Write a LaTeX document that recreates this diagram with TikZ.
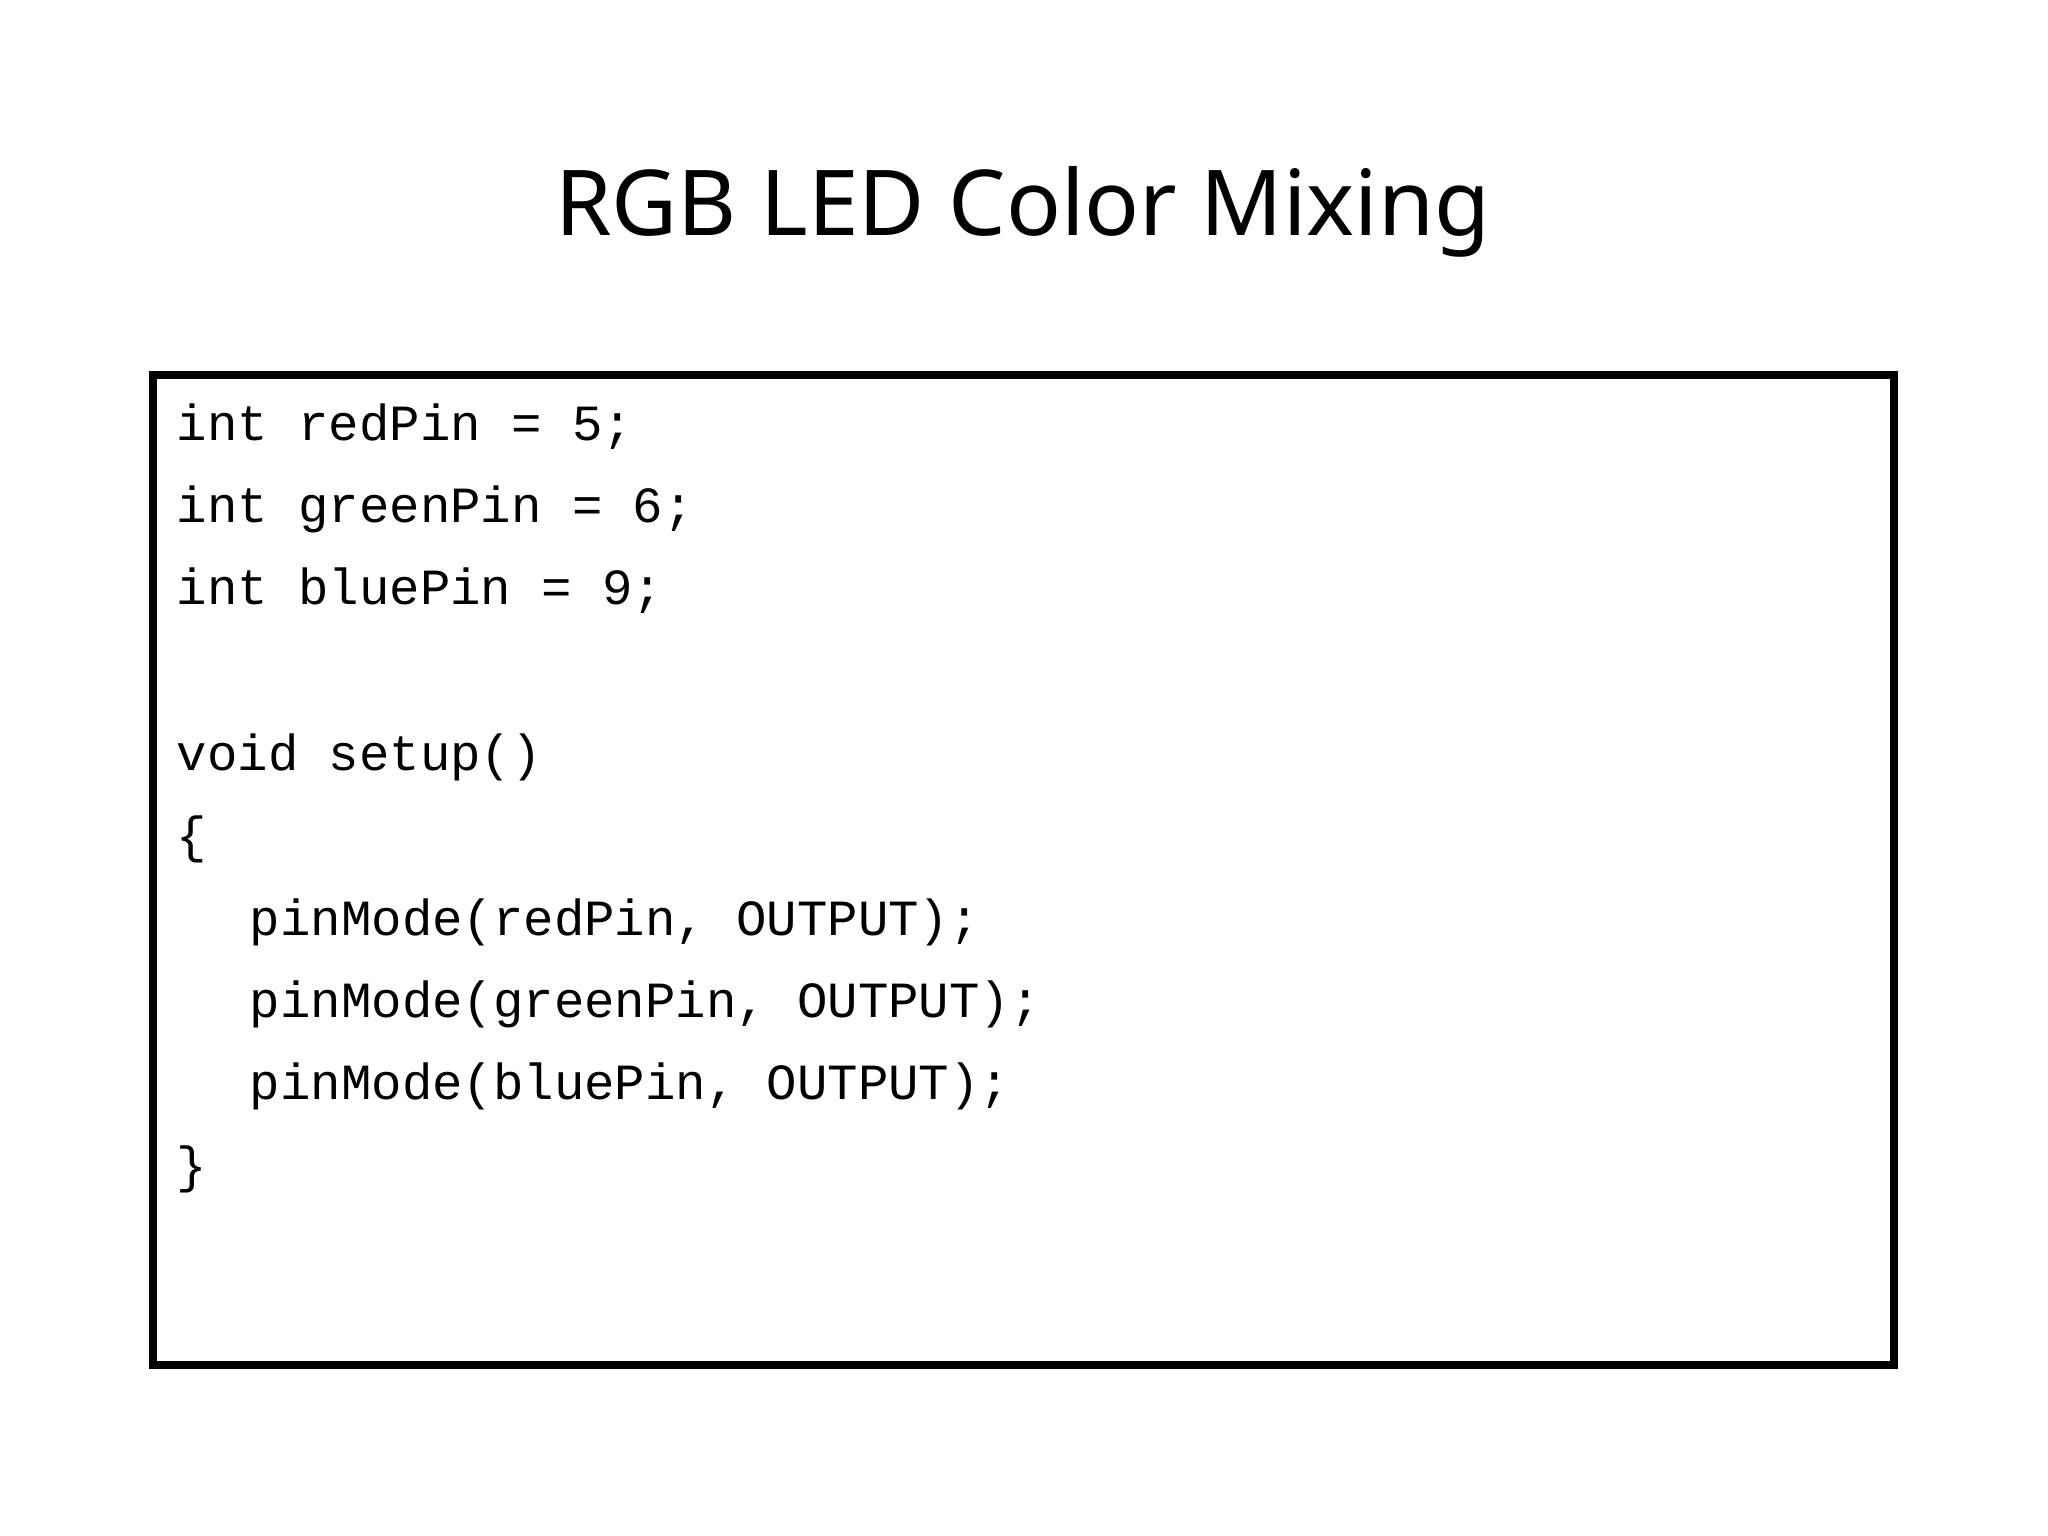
\documentclass[tikz,border=0pt]{standalone}
\usepackage{fontspec}
\setmainfont{Noto Sans}
\newfontfamily\codefont{Liberation Mono}
\begin{document}
\begin{tikzpicture}[x=0.5pt,y=-0.5pt,
  code/.style={anchor=base west,inner sep=0pt,font=\codefont\fontsize{19.4pt}{20pt}\selectfont}]
\useasboundingbox (0,0) rectangle (1568,1176);
\node[anchor=base,inner sep=0pt,font=\fontsize{34.8pt}{38pt}\selectfont] (title) at (783,180) {RGB LED Color Mixing};
\draw[line width=3pt] (117,287) rectangle (1450,1045);
\node[code] (l1) at (135,337) {int redPin = 5;};
\node[code] (l2) at (135,400) {int greenPin = 6;};
\node[code] (l3) at (135,463) {int bluePin = 9;};
\node[code] (l5) at (135,590) {void setup()};
\node[code] (l6) at (135,653) {\{};
\node[code] (l7) at (191,716) {pinMode(redPin, OUTPUT);};
\node[code] (l8) at (191,779) {pinMode(greenPin, OUTPUT);};
\node[code] (l9) at (191,842) {pinMode(bluePin, OUTPUT);};
\node[code] (l10) at (135,905) {\}};
\end{tikzpicture}
\end{document}
